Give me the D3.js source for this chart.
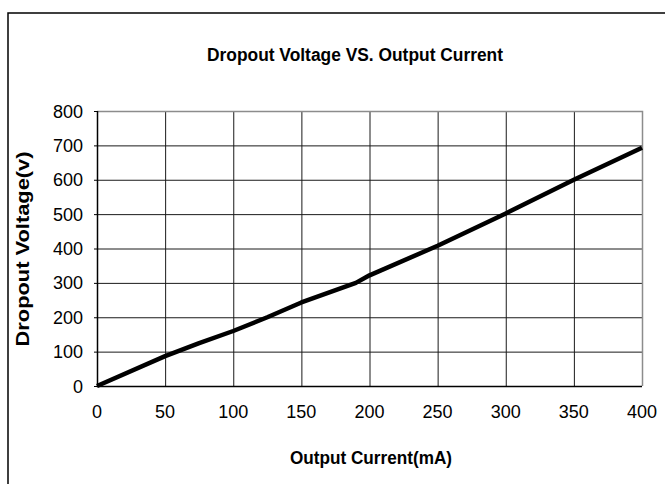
<!DOCTYPE html>
<html>
<head>
<meta charset="utf-8">
<script src="https://cdn.jsdelivr.net/npm/d3@7/dist/d3.min.js"></script>
<style>
    body { margin: 0; background: #fff; }
    svg { display: block; }
    text { font-family: "Liberation Sans", Arial, sans-serif; fill: #000; }
</style>
</head>
<body>
<div id="chart"></div>
<script>

// Dropout voltage (v) against output current (mA)
var currents = [0, 50, 75, 100, 125, 150, 190, 200, 250, 300, 350, 400];
var voltages = [0, 87, 125, 160, 200, 243, 300, 322, 408, 502, 600, 693];

var xTicks = [0, 50, 100, 150, 200, 250, 300, 350, 400];
var yTicks = [0, 100, 200, 300, 400, 500, 600, 700, 800];

var titleText = 'Dropout Voltage VS. Output Current',
    xTitleText = 'Output Current(mA)',
    yTitleText = 'Dropout Voltage(v)';


var width = 665,
    height = 484,
    plot = { left: 97, right: 642, top: 111, bottom: 386 };

var svg = d3.select('#chart')
    .append('svg')
    .attr('width', width)
    .attr('height', height);

// outer frame, runs off the right and bottom edges
svg.append('rect')
    .attr('x', 8)
    .attr('y', 13)
    .attr('width', width)
    .attr('height', height)
    .attr('fill', 'none')
    .attr('stroke', '#000')
    .attr('stroke-width', 1.5);

var x = d3.scaleLinear()
    .domain([xTicks[0], xTicks[xTicks.length - 1]])
    .range([plot.left, plot.right]);

var y = d3.scaleLinear()
    .domain([yTicks[0], yTicks[yTicks.length - 1]])
    .range([plot.bottom, plot.top]);

// gridlines
svg.append('g')
    .attr('transform', 'translate(0,' + plot.bottom + ')')
    .call(d3.axisBottom(x).tickValues(xTicks).tickSize(-(plot.bottom - plot.top)).tickSizeOuter(0).tickFormat(''));

var gy = svg.append('g')
    .attr('transform', 'translate(' + plot.left + ',0)')
    .call(d3.axisLeft(y).tickValues(yTicks).tickSize(-(plot.right - plot.left)).tickSizeOuter(0).tickFormat(''));

svg.selectAll('.domain').remove();
svg.selectAll('.tick line')
    .attr('stroke', '#1a1a1a')
    .attr('stroke-width', 1);

// short outside ticks on the value axis
gy.selectAll('.tick')
    .append('line')
    .attr('x1', -3)
    .attr('x2', 0)
    .attr('stroke', '#000');

// top and right edges of the plot area are grey
svg.append('path')
    .attr('d', 'M' + plot.left + ',' + (plot.top + 0.5) + 'H' + (plot.right + 0.5) + 'V' + plot.bottom)
    .attr('fill', 'none')
    .attr('stroke', '#8c8c8c')
    .attr('stroke-width', 1.5);

svg.append('path')
    .attr('d', 'M' + (plot.left + 0.5) + ',' + plot.top + 'V' + (plot.bottom + 0.5) + 'H' + plot.right)
    .attr('fill', 'none')
    .attr('stroke', '#000')
    .attr('stroke-width', 1.5);

// tick labels
svg.append('g')
    .selectAll('text')
    .data(yTicks)
    .enter()
    .append('text')
    .attr('x', 83)
    .attr('y', function(d) { return y(d) + 6.5; })
    .attr('text-anchor', 'end')
    .attr('font-size', 18)
    .text(function(d) { return d; });

svg.append('g')
    .selectAll('text')
    .data(xTicks)
    .enter()
    .append('text')
    .attr('x', function(d) { return x(d); })
    .attr('y', 418)
    .attr('text-anchor', 'middle')
    .attr('font-size', 18)
    .text(function(d) { return d; });

// the series
var line = d3.line()
    .x(function(d, i) { return x(currents[i]); })
    .y(function(d) { return y(d); });

svg.append('path')
    .datum(voltages)
    .attr('d', line)
    .attr('fill', 'none')
    .attr('stroke', '#000')
    .attr('stroke-width', 4.5)
    .attr('stroke-linejoin', 'round');

// titles
svg.append('text')
    .attr('x', 355)
    .attr('y', 61)
    .attr('text-anchor', 'middle')
    .attr('font-size', 18)
    .attr('font-weight', 'bold')
    .attr('textLength', 296)
    .attr('lengthAdjust', 'spacingAndGlyphs')
    .text(titleText);

svg.append('text')
    .attr('x', 371)
    .attr('y', 464)
    .attr('text-anchor', 'middle')
    .attr('font-size', 18)
    .attr('font-weight', 'bold')
    .attr('textLength', 162)
    .attr('lengthAdjust', 'spacingAndGlyphs')
    .text(xTitleText);

svg.append('text')
    .attr('transform', 'translate(29,249) rotate(-90)')
    .attr('text-anchor', 'middle')
    .attr('font-size', 18)
    .attr('font-weight', 'bold')
    .attr('textLength', 195)
    .attr('lengthAdjust', 'spacingAndGlyphs')
    .text(yTitleText);

</script>
</body>
</html>
